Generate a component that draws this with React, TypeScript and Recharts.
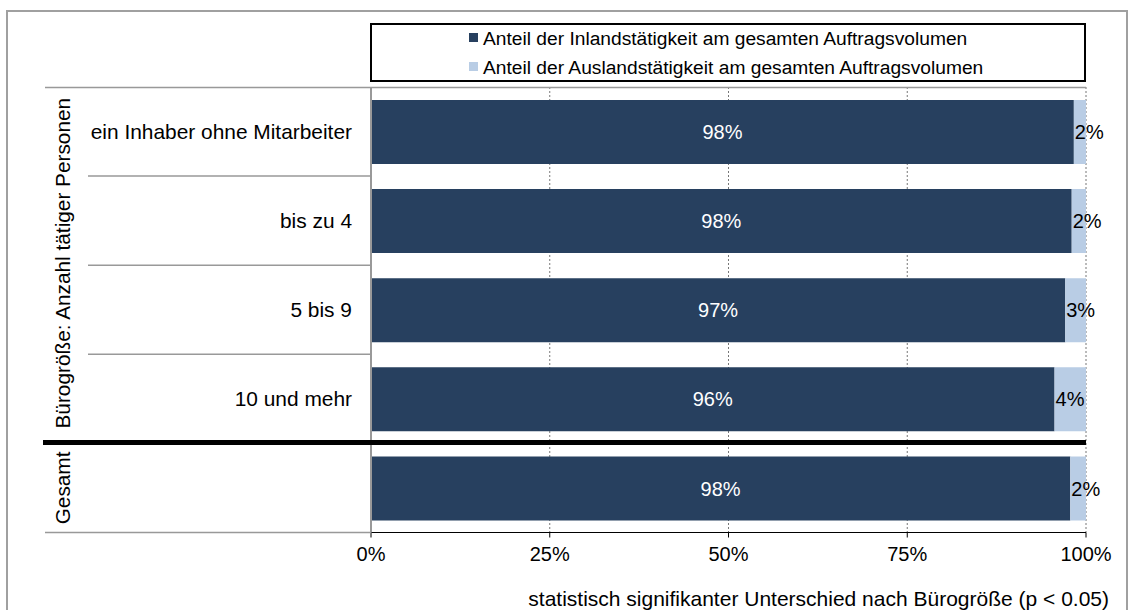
import { Bar, BarChart, CartesianGrid, LabelList, XAxis, YAxis } from 'recharts'

const categories = ['ein Inhaber ohne Mitarbeiter', 'bis zu 4', '5 bis 9', '10 und mehr', '']
const inland = [98.3, 98.0, 97.1, 95.6, 97.8]
const ausland = [1.7, 2.0, 2.9, 4.4, 2.2]
const xTicks = [0, 25, 50, 75, 100]
const seriesNames = [
  'Anteil der Inlandstätigkeit am gesamten Auftragsvolumen',
  'Anteil der Auslandstätigkeit am gesamten Auftragsvolumen',
]
const groupLabels = ['Bürogröße: Anzahl tätiger Personen', 'Gesamt']
const note = 'statistisch signifikanter Unterschied nach Bürogröße (p < 0.05)'

const DARK = '#27405f'
const LIGHT = '#b9cde5'
const FONT = '"Liberation Sans", Arial, sans-serif'

const W = 1128
const H = 610
const TOP = 87
const LEFT = 371
const RIGHT = 1086
const BOTTOM = 532.5
const band = (BOTTOM - TOP) / categories.length

const data = categories.map((name, i) => ({ name, inland: inland[i], ausland: ausland[i] }))

const pct = (v: any) => `${Math.round(Number(v))}%`

function Overlay() {
  const sepY = [1, 2, 3].map((i) => TOP + i * band)
  const thickY = TOP + 4 * band - 1
  return (
    <svg width={W} height={H} style={{ position: 'absolute', left: 0, top: 0, pointerEvents: 'none' }} fontFamily={FONT}>
      <rect x={7} y={11} width={1120} height={620} fill="none" stroke="#a0a0a0" strokeWidth={2} />
      {/* legend */}
      <rect x={371} y={24} width={714} height={57} fill="#fff" stroke="#000" strokeWidth={2} />
      {seriesNames.map((s, i) => (
        <g key={s}>
          <rect x={469} y={33 + i * 29} width={9} height={9} fill={i === 0 ? DARK : LIGHT} />
          <text x={483} y={38 + i * 29} fontSize={19.2} dominantBaseline="central" fill="#000">{s}</text>
        </g>
      ))}
      {/* label-area lines */}
      <line x1={45} x2={RIGHT} y1={TOP + 0.5} y2={TOP + 0.5} stroke="#999" strokeWidth={1.5} />
      {sepY.map((y) => (
        <line key={y} x1={88} x2={LEFT} y1={y} y2={y} stroke="#999" strokeWidth={1.5} />
      ))}
      <line x1={45} x2={LEFT} y1={BOTTOM} y2={BOTTOM} stroke="#999" strokeWidth={1.5} />
      <line x1={43} x2={RIGHT} y1={thickY} y2={thickY} stroke="#000" strokeWidth={5} />
      <text transform={`translate(62 ${TOP + 2 * band - 2}) rotate(-90)`} textAnchor="middle" dominantBaseline="central" fontSize={20.8}>
        {groupLabels[0]}
      </text>
      <text transform={`translate(62 ${TOP + 4.5 * band}) rotate(-90)`} textAnchor="middle" dominantBaseline="central" fontSize={20.8}>
        {groupLabels[1]}
      </text>
      <text x={1109} y={598} textAnchor="end" dominantBaseline="central" fontSize={21}>{note}</text>
    </svg>
  )
}

export default function App() {
  return (
    <div style={{ position: 'absolute', left: 0, top: 0, width: W, height: H, background: '#fff', fontFamily: FONT }}>
      <BarChart
        width={W}
        height={H}
        data={data}
        layout="vertical"
        margin={{ top: TOP, right: W - RIGHT, bottom: H - BOTTOM - 30, left: 0 }}
      >
        <CartesianGrid horizontal={false} stroke="#777" strokeDasharray="2 2" />
        <XAxis
          type="number"
          domain={[0, 100]}
          ticks={xTicks}
          tickFormatter={pct}
          height={30}
          axisLine={{ stroke: '#000' }}
          tickLine={{ stroke: '#000' }}
          tickSize={5}
          tickMargin={9}
          tick={{ fontSize: 20, fill: '#000', fontFamily: FONT }}
        />
        <YAxis
          type="category"
          dataKey="name"
          width={LEFT}
          axisLine={{ stroke: '#999', strokeWidth: 2 }}
          tickLine={false}
          tickSize={0}
          tickMargin={19}
          tick={{ fontSize: 20.9, fill: '#000', fontFamily: FONT }}
        />
        <Bar dataKey="inland" stackId="a" fill={DARK} barSize={64} isAnimationActive={false}>
          <LabelList dataKey="inland" position="center" fill="#fff" fontSize={20} fontFamily={FONT} formatter={pct} />
        </Bar>
        <Bar dataKey="ausland" stackId="a" fill={LIGHT} barSize={64} isAnimationActive={false}>
          <LabelList dataKey="ausland" position="insideLeft" offset={1} fill="#000" fontSize={20} fontFamily={FONT} formatter={pct} />
        </Bar>
      </BarChart>
      <Overlay />
    </div>
  )
}
